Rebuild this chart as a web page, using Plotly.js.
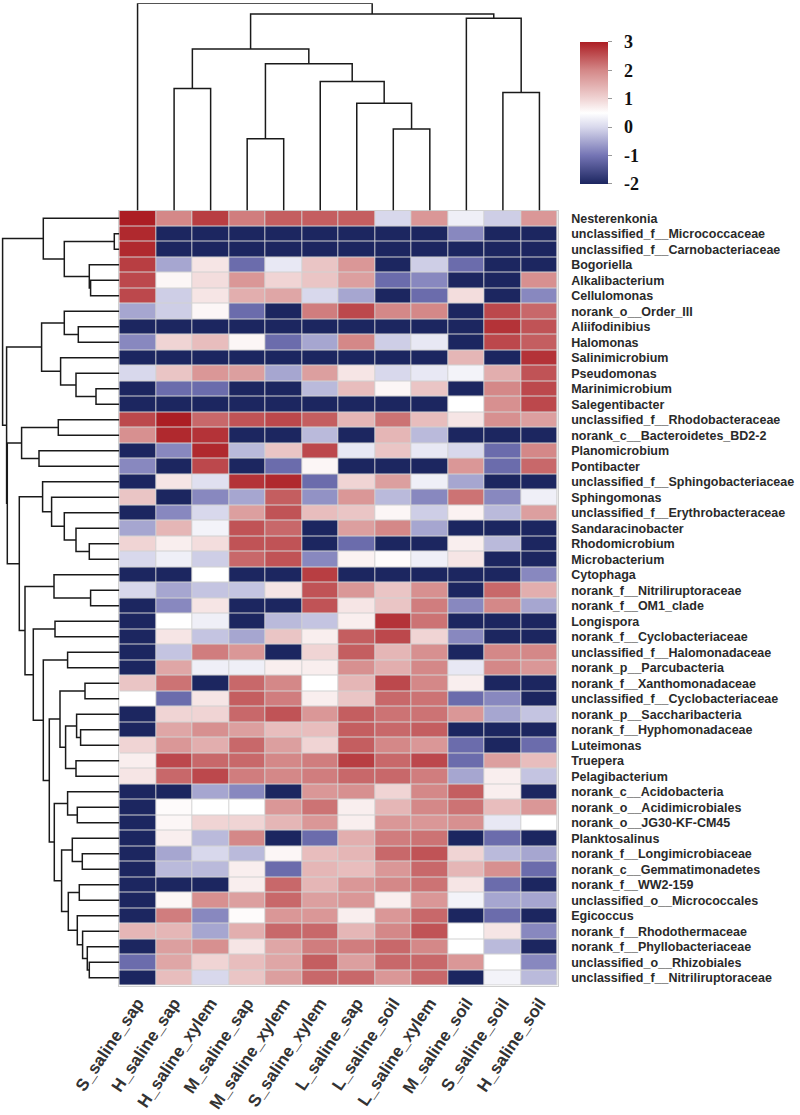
<!DOCTYPE html>
<html>
<head>
<meta charset="utf-8">
<script src="https://cdn.plot.ly/plotly-3.0.1.min.js"></script>
<style>html,body{margin:0;padding:0;background:#fff;}#chart{width:800px;height:1115px;}</style>
</head>
<body>
<div id="chart"></div>
<script>
const colLabels = ["S_saline_sap","H_saline_sap","H_saline_xylem","M_saline_sap","M_saline_xylem","S_saline_xylem","L_saline_sap","L_saline_soil","L_saline_xylem","M_saline_soil","S_saline_soil","H_saline_soil"];

const rowLabels = ["Nesterenkonia","unclassified_f__Micrococcaceae","unclassified_f__Carnobacteriaceae","Bogoriella","Alkalibacterium","Cellulomonas","norank_o__Order_III","Aliifodinibius","Halomonas","Salinimicrobium","Pseudomonas","Marinimicrobium","Salegentibacter","unclassified_f__Rhodobacteraceae","norank_c__Bacteroidetes_BD2-2","Planomicrobium","Pontibacter","unclassified_f__Sphingobacteriaceae","Sphingomonas","unclassified_f__Erythrobacteraceae","Sandaracinobacter","Rhodomicrobium","Microbacterium","Cytophaga","norank_f__Nitriliruptoraceae","norank_f__OM1_clade","Longispora","norank_f__Cyclobacteriaceae","unclassified_f__Halomonadaceae","norank_p__Parcubacteria","norank_f__Xanthomonadaceae","unclassified_f__Cyclobacteriaceae","norank_p__Saccharibacteria","norank_f__Hyphomonadaceae","Luteimonas","Truepera","Pelagibacterium","norank_c__Acidobacteria","norank_o__Acidimicrobiales","norank_o__JG30-KF-CM45","Planktosalinus","norank_f__Longimicrobiaceae","norank_c__Gemmatimonadetes","norank_f__WW2-159","unclassified_o__Micrococcales","Egicoccus","norank_f__Rhodothermaceae","norank_f__Phyllobacteriaceae","unclassified_o__Rhizobiales","unclassified_f__Nitriliruptoraceae"];

const zValues = [
[3.0,2.0,2.7,2.1,2.4,2.4,2.4,0.0,1.8,0.3,-0.1,1.8],
[2.9,-2,-2,-2,-2,-2,-2,-2,-2,-0.8,-2,-2],
[2.9,-2,-2,-2,-2,-2,-2,-2,-2,-2,-2,-2],
[2.7,-0.5,0.8,-1.1,0.2,1.2,1.8,-2,-0.1,-1.1,-2,-2],
[2.6,0.6,0.9,1.8,1.0,1.2,1.7,-1.1,-0.8,-2,-2,1.9],
[2.6,-0.1,0.8,1.5,1.6,0.0,-0.5,-2,-1.1,0.9,-2,-0.8],
[-0.5,-0.1,0.6,-1.1,-2,2.1,2.6,2.0,2.0,-2,2.6,2.3],
[-2,-2,-2,-2,-2,-2,-2,-2,-2,-2,2.8,2.5],
[-0.8,1.0,1.3,0.6,-1.1,-0.5,2.0,-0.1,0.2,-2,2.6,2.4],
[-2,-2,-2,-2,-2,-2,-2,-2,-2,1.4,-2,2.8],
[0.0,1.2,1.8,1.7,-0.5,1.7,0.8,0.0,0.2,0.35,1.5,2.5],
[-2,-1.1,-1.1,-2,-2,-0.3,1.3,0.6,1.2,-2,2.0,2.6],
[-2,-2,-2,-2,-2,-2,-2,-2,-2,0.5,1.9,2.6],
[2.6,3.0,2.3,2.5,2.6,2.4,1.4,2.2,1.3,0.8,1.9,1.7],
[1.9,2.9,2.8,-2,-2,-0.3,-2,1.4,-0.3,-2,-2,-2],
[-2,-0.8,2.9,-0.3,1.2,2.6,0.2,1.2,0.2,0.0,-1.1,2.0],
[-0.8,-2,2.6,-2,-1.1,0.6,-2,-2,-2,1.8,-1.1,2.3],
[-2,0.8,0.1,2.8,2.9,-1.1,1.0,1.7,0.3,-0.5,-2,-2],
[1.2,-2,-0.8,-0.5,2.4,-0.7,1.8,-0.3,-0.8,2.2,-0.8,0.3],
[-2,-0.8,0.0,1.7,2.5,1.3,1.2,0.6,-0.1,0.65,-0.3,1.7],
[-0.5,1.4,0.35,2.5,2.3,-2,1.7,2.0,-0.5,-2,-2,-2],
[1.0,0.7,0.9,2.5,2.5,-2,-1.1,-2,-2,0.7,-0.3,-2],
[0.0,0.3,-0.1,2.3,2.5,-0.8,0.65,0.55,0.3,0.8,-2,-2],
[-2,-2,0.5,-2,-2,2.7,-2,-2,-2,-2,-2,-0.8],
[0.0,-0.5,-0.2,-0.2,0.8,2.5,1.8,1.2,1.9,-2,2.3,1.5],
[-2,-0.8,0.8,-2,-2,2.5,0.8,1.2,2.1,-0.8,2.0,-0.5],
[-2,0.5,0.3,-2,-0.3,-0.2,0.7,2.8,2.2,-2,-2,-2],
[-2,0.8,-0.2,-0.5,1.2,0.7,2.4,2.6,1.0,-0.8,-2,-2],
[-2,-0.2,2.1,1.8,-2,1.0,2.4,1.4,1.9,-2,2.0,2.0],
[-2,1.6,0.3,0.3,0.7,0.7,1.9,1.5,2.0,0.2,2.0,1.8],
[1.2,2.2,-2,2.3,2.0,0.5,1.4,2.6,2.0,0.7,-2,-2],
[0.5,-1.1,0.8,2.4,2.1,0.7,1.2,2.3,2.2,-1.1,-0.8,-2],
[-2,1.0,1.0,2.3,2.5,1.8,2.4,2.2,2.2,1.8,-0.5,-0.2],
[-2,1.6,1.9,1.7,1.3,1.3,2.4,2.3,2.4,-2,-2,-2],
[1.0,1.8,1.5,2.3,1.7,1.0,2.4,2.0,1.8,-1.1,-2,-1.1],
[0.7,2.6,2.3,2.3,2.0,2.1,2.7,2.3,2.6,-1.1,1.7,1.3],
[0.8,2.3,2.6,2.1,2.0,2.1,2.3,2.3,2.1,-0.5,0.7,-0.2],
[-2,-2,-0.5,-0.8,-2,1.8,1.9,1.0,2.0,2.4,0.7,-2],
[-2,0.55,0.5,0.5,1.8,2.2,0.7,1.4,2.0,2.2,1.3,1.8],
[-2,0.6,1.0,1.0,1.4,1.8,0.7,1.8,1.8,1.9,0.2,0.5],
[-2,0.7,-0.3,2.0,-2,-1.1,1.5,2.1,2.2,-2,-1.1,-2],
[-2,-0.5,0.0,-0.3,0.6,1.3,1.4,2.3,2.5,1.0,-0.3,-0.5],
[-2,-0.3,-0.3,0.7,-1.1,1.4,1.3,1.8,2.3,1.4,1.9,-1.1],
[-2,-2,-2,0.7,2.3,1.4,1.8,2.0,2.2,0.8,-1.1,-2],
[-2,0.6,1.9,1.7,2.3,1.7,1.8,0.7,1.8,0.35,-0.5,-0.5],
[-2,2.1,-0.8,0.55,1.8,1.8,0.7,1.8,2.3,-2,-1.1,-2],
[1.4,1.4,-0.5,1.5,2.3,2.3,1.4,2.0,2.5,0.5,0.8,-0.8],
[-2,1.7,1.9,0.8,1.6,2.1,2.1,2.3,2.0,0.5,-0.3,-2],
[-1.1,1.6,1.0,1.3,1.6,2.4,1.7,2.3,2.3,1.8,0.5,-0.8],
[-2,1.3,0.0,1.2,1.7,2.3,2.3,1.8,2.3,-2,0.35,-0.3]
];

// column dendrogram linkage: [childA, childB, height]; leaves 0..11, clusters 12+
const colLinkage = [
[1,2,121.7],[3,4,71.7],[7,8,81.3],[6,14,107],[5,15,128.7],[13,16,146.3],
[12,17,161],[10,11,117.7],[9,19,191.7],[18,20,196],[0,21,206.7]
];

// row dendrogram linkage: leaves 0..49, clusters 50+
const rowLinkage = [
[1,2,5],[4,5,28.7],[3,51,30],[50,52,55],[0,53,76],
[7,8,41],[6,55,55],[11,12,23.3],[10,57,43.3],[9,58,58.7],[56,59,77.7],
[13,14,61],[15,16,80.3],[61,62,97.7],
[21,22,30],[20,64,43.3],[19,65,55],[18,66,67.7],[17,67,76.7],
[24,25,28.7],[23,69,65.3],[26,27,64.3],[28,29,51.7],
[30,31,34.3],[33,34,38.7],[32,74,42.7],[35,36,43.3],[75,76,53.7],[73,77,59.3],
[38,39,42],[37,79,51.7],[41,42,37],[40,81,47],[43,44,40],
[48,49,30],[47,84,32],[46,85,36.7],[45,86,42],[83,87,51],[82,88,57.7],[80,89,65],
[78,90,70],[72,91,76],[71,92,86],[70,93,94.3],[68,94,100],[63,95,112],[60,96,112.7],[54,97,116.7]
];

const cbTicks = [-2, -1, 0, 1, 2, 3];

function dendroSegments(linkage, nLeaves) {
  const pos = [], ht = [];
  for (let i = 0; i < nLeaves; i++) { pos.push(i); ht.push(0); }
  const p = [], h = [];
  linkage.forEach(m => {
    const [a, b, hh] = m;
    p.push(pos[a], pos[a], pos[b], pos[b], null);
    h.push(ht[a], hh, hh, ht[b], null);
    pos.push((pos[a] + pos[b]) / 2);
    ht.push(hh);
  });
  return {p, h};
}

const W = 800, H = 1115;
const hmL = 119.3, hmR = 557.7, hmT = 210.5, hmB = 985.5;
const xDom = [hmL / W, hmR / W];
const yDom = [1 - hmB / H, 1 - hmT / H];

const colD = dendroSegments(colLinkage, colLabels.length);
const rowD = dendroSegments(rowLinkage, rowLabels.length);

const idxCols = colLabels.map((_, i) => i);
const idxRows = rowLabels.map((_, i) => i);

const colorscale = [
  [0, '#1c2660'],
  [0.2, '#7474b4'],
  [0.4, '#d8d8ec'],
  [0.5, '#ffffff'],
  [0.6, '#f0d4d4'],
  [0.8, '#d48888'],
  [1, '#ac1e24']
];

const traces = [
  {
    type: 'heatmap', z: zValues, x: idxCols, y: idxRows,
    zmin: -2, zmax: 3, colorscale: colorscale, xgap: 1, ygap: 1,
    hoverinfo: 'skip',
    colorbar: {
      x: 580 / W, xanchor: 'left', xpad: 0,
      y: 1 - 112.85 / H, yanchor: 'middle', ypad: 0,
      len: 142.3, lenmode: 'pixels', thickness: 28, thicknessmode: 'pixels',
      outlinewidth: 0,
      tickvals: cbTicks, ticktext: cbTicks.map(v => '\u00a0\u00a0' + String(v)),
      ticks: 'outside', ticklen: 4, tickcolor: '#999', tickwidth: 1,
      tickfont: {family: 'Times New Roman, Liberation Serif, serif', size: 18, color: '#111', weight: 'bold'}
    }
  },
  {
    type: 'scatter', mode: 'lines', x: colD.p, y: colD.h, xaxis: 'x2', yaxis: 'y2',
    line: {color: '#1a1a1a', width: 1.5}, hoverinfo: 'skip', cliponaxis: false, showlegend: false
  },
  {
    type: 'scatter', mode: 'lines', x: rowD.h, y: rowD.p, xaxis: 'x3', yaxis: 'y3',
    line: {color: '#1a1a1a', width: 1.5}, hoverinfo: 'skip', cliponaxis: false, showlegend: false
  }
];

const layout = {
  width: W, height: H,
  margin: {l: 0, r: 0, t: 0, b: 0},
  paper_bgcolor: '#ffffff', plot_bgcolor: 'rgba(0,0,0,0)',
  showlegend: false,
  shapes: [{
    type: 'rect', xref: 'x', yref: 'y', x0: -0.5, x1: colLabels.length - 0.5,
    y0: -0.5, y1: rowLabels.length - 0.5, fillcolor: '#d2d2d2', line: {width: 0}, layer: 'below'
  }],
  xaxis: {
    domain: xDom, range: [-0.5, 11.5], tickvals: idxCols, ticktext: colLabels,
    tickangle: -56, ticks: '', showgrid: false, zeroline: false,
    showline: true, mirror: true, linecolor: '#d0d0d0', linewidth: 1,
    tickfont: {family: 'Arial, Liberation Sans, sans-serif', size: 17, color: '#333', weight: 'bold'},
    fixedrange: true
  },
  yaxis: {
    domain: yDom, range: [49.5, -0.5], side: 'right', tickvals: idxRows, ticktext: rowLabels,
    ticks: '', showgrid: false, zeroline: false, ticklabelstandoff: 10,
    showline: true, mirror: true, linecolor: '#d0d0d0', linewidth: 1,
    tickfont: {family: 'Arial, Liberation Sans, sans-serif', size: 12.5, color: '#2a2a2a', weight: 'bold'},
    fixedrange: true
  },
  xaxis2: {domain: xDom, range: [-0.5, 11.5], anchor: 'y2', visible: false, fixedrange: true},
  yaxis2: {domain: [1 - hmT / H, 1 - 3.3 / H], range: [0, 206.7], anchor: 'x2', visible: false, fixedrange: true},
  xaxis3: {domain: [0, hmL / W], range: [hmL, 0], anchor: 'y3', visible: false, fixedrange: true},
  yaxis3: {domain: yDom, range: [49.5, -0.5], anchor: 'x3', visible: false, fixedrange: true}
};

Plotly.newPlot('chart', traces, layout, {displayModeBar: false, staticPlot: true});
</script>
</body>
</html>
